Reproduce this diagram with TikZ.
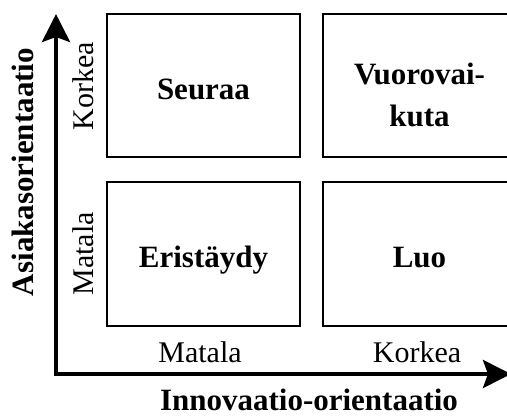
\documentclass[tikz,border=0pt]{standalone}
\usepackage{fontspec}
\setmainfont{Liberation Serif}
\usetikzlibrary{arrows.meta}
\begin{document}
\begin{tikzpicture}[x=1pt,y=-1pt,
  quad/.style={draw=black, line width=2pt, minimum width=193pt, inner sep=0pt,
    font=\fontsize{31}{42}\selectfont\bfseries},
  onel/.style={text height=27pt, text depth=0pt},
  axis/.style={line width=4pt, line join=miter,
    arrows={Stealth[length=28pt,width=28pt,inset=5pt]-Stealth[length=28pt,width=28pt,inset=5pt]}},
  lvl/.style={font=\fontsize{30}{36}\selectfont, anchor=base, inner sep=0pt},
  ttl/.style={font=\fontsize{31}{36}\selectfont\bfseries, anchor=base, inner sep=0pt}]
\useasboundingbox (0,0) rectangle (507,418);
\clip (0,0) rectangle (507,418);
% quadrants
\node[quad, onel, minimum height=143pt] (tl) at (203.5,85.5) {Seuraa};
\node[quad, minimum height=143pt, align=center] (tr) at (419.5,85.5) {\rule{0pt}{40pt}Vuorovai-\\kuta};
\node[quad, onel, minimum height=144pt] (bl) at (203.5,254) {Eristäydy};
\node[quad, onel, minimum height=144pt] (br) at (419.5,254) {Luo};
% axes
\coordinate (ytip) at (56,14);
\coordinate (orig) at (56,374);
\coordinate (xtip) at (511,374);
\draw[axis] (ytip) -- (orig) -- (xtip);
% level labels
\node[lvl, rotate=90] (yhi) at (93,86) {Korkea};
\node[lvl, rotate=90] (ylo) at (93,254) {Matala};
\node[lvl] (xlo) at (200,362) {Matala};
\node[lvl] (xhi) at (417,362) {Korkea};
% axis titles
\node[ttl, rotate=90] (ytitle) at (33,172) {Asiakasorientaatio};
\node[ttl] (xtitle) at (309,410) {Innovaatio-orientaatio};
\end{tikzpicture}
\end{document}
